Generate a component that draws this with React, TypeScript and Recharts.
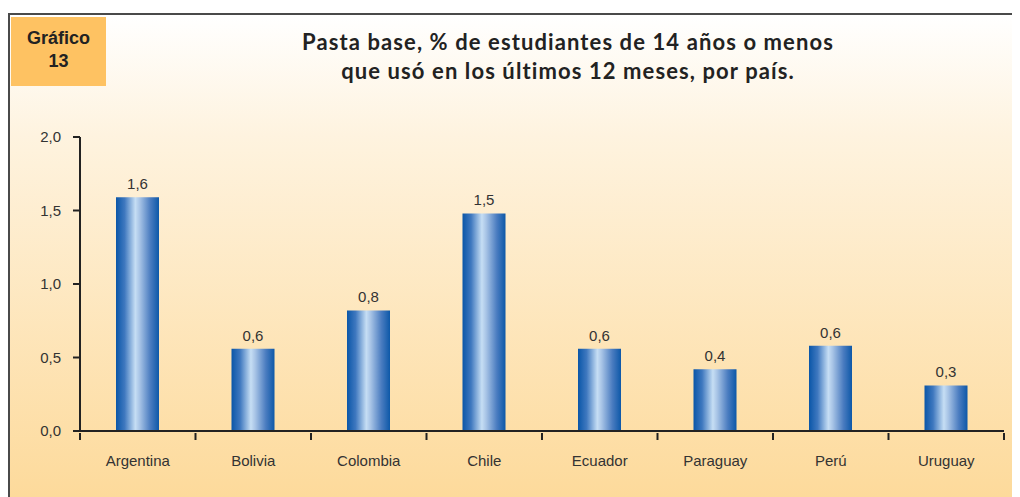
import React from "react";
import { BarChart, Bar, XAxis, YAxis, LabelList } from "recharts";

const countries = ["Argentina", "Bolivia", "Colombia", "Chile", "Ecuador", "Paraguay", "Perú", "Uruguay"];
const values = [1.59, 0.56, 0.82, 1.48, 0.56, 0.42, 0.58, 0.31];
const yTicks = [0, 0.5, 1, 1.5, 2];

const data = countries.map((pais, i) => ({ pais, valor: values[i] }));

const CHART_W = 1010;
const CHART_H = 482;
const MARGIN = { top: 122, right: 16, bottom: 36, left: 10 };
const Y_WIDTH = 60;
const PLOT_W = CHART_W - MARGIN.left - MARGIN.right - Y_WIDTH;
const BAND = PLOT_W / countries.length;

const fmt = (v: number) => v.toFixed(1).replace(".", ",");
const font = "'Liberation Sans', Arial, sans-serif";

function CountryTick(props: any) {
  const { x, y, payload, index } = props;
  const half = BAND / 2;
  return (
    <g>
      <line x1={x - half} x2={x - half} y1={y - 6} y2={y + 1} stroke="#222" strokeWidth={2} />
      {index === countries.length - 1 && (
        <line x1={x + half} x2={x + half} y1={y - 6} y2={y + 1} stroke="#222" strokeWidth={2} />
      )}
      <text x={x} y={y + 16} dy="0.71em" textAnchor="middle" fontSize={15} fontFamily={font} fill="#333">
        {payload.value}
      </text>
    </g>
  );
}

export default function App() {
  return (
    <div
      style={{
        position: "relative",
        marginTop: 5,
        width: 1010,
        height: 482,
        borderTop: "2px solid #4a4a4a",
        borderLeft: "2px solid #4a4a4a",
        background: "linear-gradient(to bottom, #ffffff 0%, #fef3df 25%, #fdda9b 100%)",
      }}
    >
      <div
        style={{
          position: "absolute",
          left: 1,
          top: 2,
          width: 95,
          height: 69,
          background: "#fec262",
          fontFamily: font,
          fontWeight: "bold",
          fontSize: 18,
          color: "#222",
          textAlign: "center",
          lineHeight: "23px",
          paddingTop: 10,
          boxSizing: "border-box",
        }}
      >
        Gráfico
        <br />
        13
      </div>
      <div
        style={{
          position: "absolute",
          left: 0,
          top: 12,
          width: 1116,
          textAlign: "center",
          fontFamily: "Lato, 'Open Sans', sans-serif",
          fontWeight: "bold",
          fontSize: 22,
          letterSpacing: 1.1,
          lineHeight: "29px",
          color: "#222",
        }}
      >
        Pasta base, % de estudiantes de 14 años o menos
        <br />
        que usó en los últimos 12 meses, por país.
      </div>
      <div style={{ position: "absolute", left: 0, top: 0 }}>
        <BarChart width={CHART_W} height={CHART_H} data={data} margin={MARGIN}>
          <defs>
            <linearGradient id="barGrad" x1="0" y1="0" x2="1" y2="0">
              <stop offset="0%" stopColor="#0a56a8" />
              <stop offset="20%" stopColor="#3f78bf" />
              <stop offset="45%" stopColor="#c6def4" />
              <stop offset="55%" stopColor="#a8c4e6" />
              <stop offset="80%" stopColor="#4a7cc0" />
              <stop offset="100%" stopColor="#0d58a8" />
            </linearGradient>
          </defs>
          <XAxis
            dataKey="pais"
            axisLine={{ stroke: "#222", strokeWidth: 2 }}
            tickLine={false}
            tick={<CountryTick />}
            interval={0}
            height={30}
          />
          <YAxis
            domain={[0, 2]}
            ticks={yTicks}
            width={Y_WIDTH}
            tickFormatter={fmt}
            axisLine={{ stroke: "#222", strokeWidth: 2 }}
            tickLine={{ stroke: "#222", strokeWidth: 2 }}
            tickSize={7}
            tickMargin={12}
            tick={{ fontSize: 15, fontFamily: font, fill: "#333" }}
          />
          <Bar dataKey="valor" barSize={43} fill="url(#barGrad)" isAnimationActive={false}>
            <LabelList
              dataKey="valor"
              position="top"
              offset={8}
              formatter={(v: any) => fmt(Number(v))}
              style={{ fontSize: 15, fontFamily: font, fill: "#333" }}
            />
          </Bar>
        </BarChart>
      </div>
    </div>
  );
}
